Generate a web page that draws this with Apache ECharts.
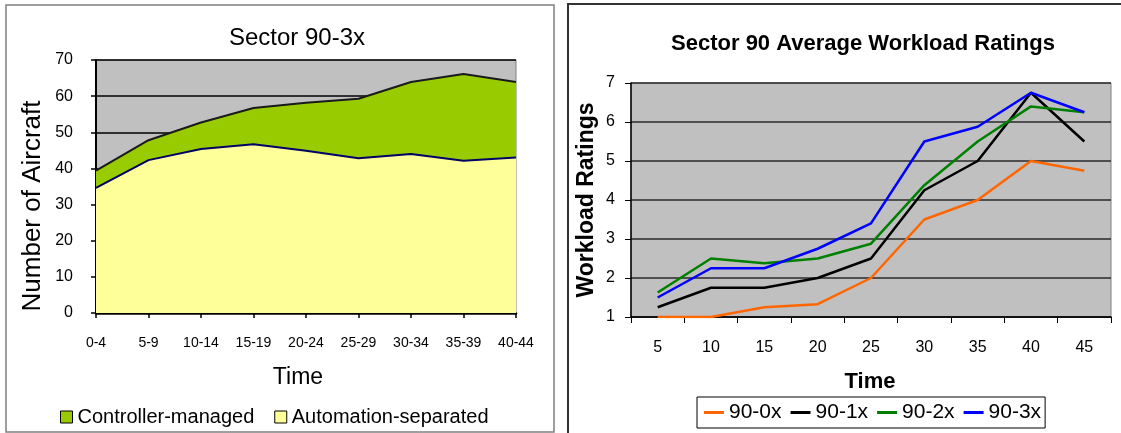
<!DOCTYPE html>
<html>
<head>
<meta charset="utf-8">
<title>Sector 90 traffic and workload</title>
<script src="https://cdn.jsdelivr.net/npm/echarts@6/dist/echarts.min.js"></script>
<style>
  html, body { margin: 0; padding: 0; background: #fff; }
  #chart { width: 1121px; height: 433px; }
</style>
</head>
<body>
<div id="chart"></div>
<script>
// ---- Sector 90-3x: aircraft counts per 5-minute bin ----
const timeBins = ['0-4', '5-9', '10-14', '15-19', '20-24', '25-29', '30-34', '35-39', '40-44'];
const automationSeparated = [34.6, 42.3, 45.4, 46.7, 44.9, 42.8, 44.0, 42.1, 43.0];
const controllerManaged = [4.8, 5.5, 7.3, 10.0, 13.3, 16.5, 19.9, 24.0, 20.9];

// ---- Sector 90: average workload ratings by condition ----
const ratingTimes = ['5', '10', '15', '20', '25', '30', '35', '40', '45'];
const rating90_0x = [1.0, 1.0, 1.25, 1.33, 2.0, 3.5, 4.0, 5.0, 4.75];
const rating90_1x = [1.25, 1.75, 1.75, 2.0, 2.5, 4.25, 5.0, 6.75, 5.5];
const rating90_2x = [1.63, 2.5, 2.38, 2.5, 2.88, 4.38, 5.5, 6.4, 6.25];
const rating90_3x = [1.5, 2.25, 2.25, 2.75, 3.4, 5.5, 5.88, 6.75, 6.25];

const FONT = '"Liberation Sans", Arial, sans-serif';

const chart = echarts.init(document.getElementById('chart'), null, { renderer: 'canvas' });

function lineSeries(name, data, color) {
  return {
    name: name, type: 'line', data: data,
    xAxisIndex: 1, yAxisIndex: 1,
    symbol: 'none', smooth: false,
    itemStyle: { color: color },
    lineStyle: { color: color, width: 2.5 },
    emphasis: { disabled: true }
  };
}

const option = {
  animation: false,
  backgroundColor: '#ffffff',
  textStyle: { fontFamily: FONT },
  grid: [
    { left: 96, top: 60, width: 420, height: 253, show: true,
      backgroundColor: '#c0c0c0', borderColor: '#808080', borderWidth: 1 },
    { left: 631, top: 83, width: 480, height: 234, show: true,
      backgroundColor: '#c0c0c0', borderColor: '#808080', borderWidth: 1 }
  ],
  xAxis: [
    { type: 'category', gridIndex: 0, data: timeBins, boundaryGap: false,
      axisLine: { lineStyle: { color: '#000', width: 2.5 } },
      axisTick: { show: true, length: 5, interval: 0, lineStyle: { color: '#000', width: 1.5 } },
      axisLabel: { interval: 0, fontSize: 14, color: '#000', margin: 23, fontFamily: FONT },
      splitLine: { show: false } },
    { type: 'category', gridIndex: 1, data: ratingTimes, boundaryGap: true,
      axisLine: { lineStyle: { color: '#000', width: 1.5 } },
      axisTick: { show: true, length: 6, interval: 0, lineStyle: { color: '#000', width: 1 } },
      axisLabel: { interval: 0, fontSize: 16, color: '#000', margin: 23, fontFamily: FONT },
      splitLine: { show: false } }
  ],
  yAxis: [
    { type: 'value', gridIndex: 0, min: 0, max: 70, interval: 10,
      axisLine: { show: true, lineStyle: { color: '#000', width: 2 } },
      axisTick: { show: true, length: 5, lineStyle: { color: '#000', width: 1.5 } },
      axisLabel: { fontSize: 16, color: '#000', margin: 23, fontFamily: FONT },
      splitLine: { show: true, lineStyle: { color: '#000', width: 1.5 } } },
    { type: 'value', gridIndex: 1, min: 1, max: 7, interval: 1,
      axisLine: { show: true, lineStyle: { color: '#000', width: 1.5 } },
      axisTick: { show: true, length: 6, lineStyle: { color: '#000', width: 1 } },
      axisLabel: { fontSize: 16, color: '#000', margin: 16, fontFamily: FONT },
      splitLine: { show: true, lineStyle: { color: '#2a2a2a', width: 1.5 } } }
  ],
  legend: [
    { data: ['Controller-managed', 'Automation-separated'],
      left: 55, top: 402, orient: 'horizontal',
      icon: 'rect', itemWidth: 12, itemHeight: 12, itemGap: 20,
      itemStyle: { borderColor: '#000', borderWidth: 1 },
      textStyle: { fontSize: 20, color: '#000', fontFamily: FONT },
      selectedMode: false },
    { data: ['90-0x', '90-1x', '90-2x', '90-3x'],
      left: 697, top: 397, orient: 'horizontal',
      icon: 'rect', itemWidth: 20, itemHeight: 3, itemGap: 9,
      borderColor: '#000', borderWidth: 1, padding: [5, 4, 5, 7],
      textStyle: { fontSize: 21, color: '#000', fontFamily: FONT },
      selectedMode: false }
  ],
  series: [
    { name: 'Automation-separated', type: 'line', stack: 'aircraft',
      xAxisIndex: 0, yAxisIndex: 0, data: automationSeparated,
      symbol: 'none', itemStyle: { color: '#ffff99' },
      lineStyle: { color: '#000066', width: 2 },
      areaStyle: { color: '#ffff99', opacity: 1 },
      emphasis: { disabled: true } },
    { name: 'Controller-managed', type: 'line', stack: 'aircraft',
      xAxisIndex: 0, yAxisIndex: 0, data: controllerManaged,
      symbol: 'none', itemStyle: { color: '#99cc00' },
      lineStyle: { color: '#1a1a1a', width: 2 },
      areaStyle: { color: '#99cc00', opacity: 1 },
      emphasis: { disabled: true } },
    lineSeries('90-0x', rating90_0x, '#ff6600'),
    lineSeries('90-1x', rating90_1x, '#000000'),
    lineSeries('90-2x', rating90_2x, '#008000'),
    lineSeries('90-3x', rating90_3x, '#0000ff')
  ],
  graphic: [
    // panel frames
    { type: 'rect', silent: true, z: -1,
      shape: { x: 6, y: 5, width: 548, height: 427 },
      style: { fill: null, stroke: '#7f7f7f', lineWidth: 1.5 } },
    { type: 'rect', silent: true, z: -1,
      shape: { x: 568, y: 4, width: 600, height: 460 },
      style: { fill: null, stroke: '#333333', lineWidth: 2 } },
    // left panel headings
    { type: 'text', silent: true, x: 297, y: 38,
      style: { text: 'Sector 90-3x', font: '24px ' + FONT, fill: '#000',
               align: 'center', verticalAlign: 'middle' } },
    { type: 'text', silent: true, x: 33, y: 206, rotation: Math.PI / 2,
      style: { text: 'Number of Aircraft', font: '26px ' + FONT, fill: '#000',
               align: 'center', verticalAlign: 'middle' } },
    { type: 'text', silent: true, x: 298, y: 378,
      style: { text: 'Time', font: '23px ' + FONT, fill: '#000',
               align: 'center', verticalAlign: 'middle' } },
    // right panel headings
    { type: 'text', silent: true, x: 863, y: 44,
      style: { text: 'Sector 90 Average Workload Ratings', font: 'bold 22px ' + FONT, fill: '#000',
               align: 'center', verticalAlign: 'middle' } },
    { type: 'text', silent: true, x: 587, y: 200, rotation: Math.PI / 2,
      style: { text: 'Workload Ratings', font: 'bold 23px ' + FONT, fill: '#000',
               align: 'center', verticalAlign: 'middle' } },
    { type: 'text', silent: true, x: 870, y: 382,
      style: { text: 'Time', font: 'bold 22px ' + FONT, fill: '#000',
               align: 'center', verticalAlign: 'middle' } }
  ]
};

chart.setOption(option);
</script>
</body>
</html>
